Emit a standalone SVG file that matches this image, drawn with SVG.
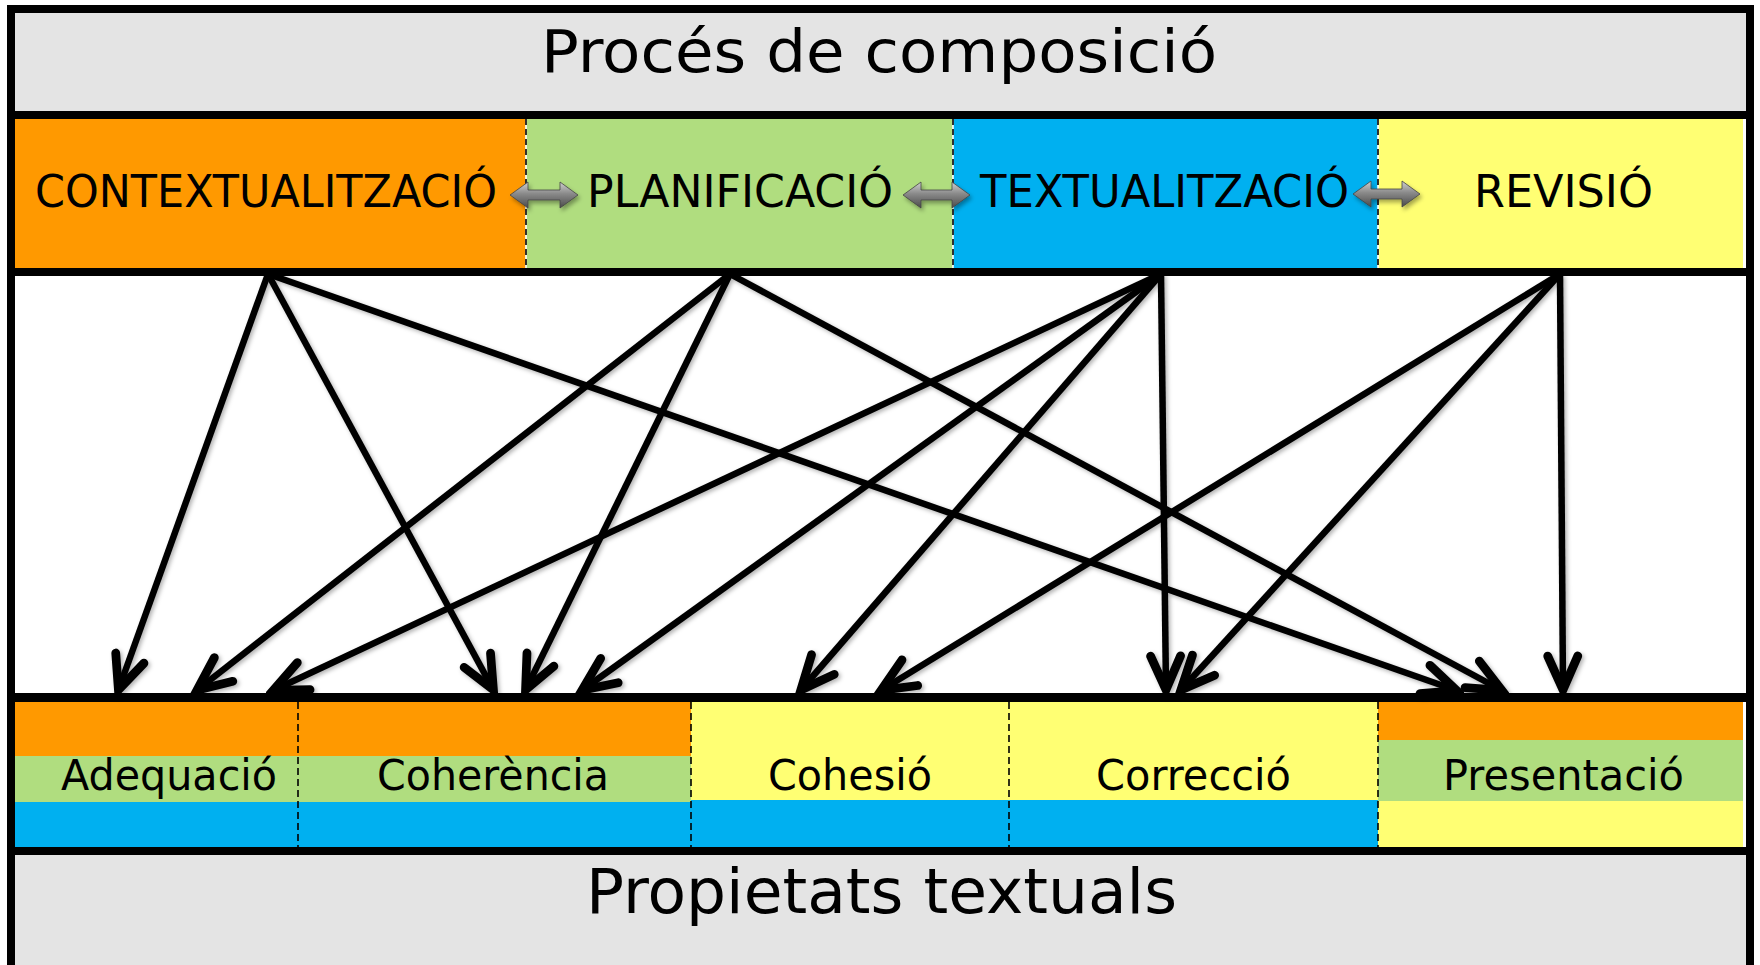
<svg xmlns="http://www.w3.org/2000/svg" width="1760" height="965" viewBox="0 0 1760 965">
<style>
.lbl{font-family:"DejaVu Sans",Verdana,"Liberation Sans",sans-serif;fill:#000;}
.conn{stroke:#000;stroke-width:6.5;fill:none;marker-end:url(#ah);}
.dashT{stroke:#000;stroke-width:1.6;stroke-dasharray:6 4;}
.dashB{stroke:#000;stroke-width:1.6;stroke-dasharray:7 4;}
.dbl{fill:url(#gArrow);stroke:#444;stroke-width:0.8;filter:url(#sh);}
</style>
<defs>
<marker id="ah" markerUnits="userSpaceOnUse" markerWidth="50" markerHeight="50" viewBox="-35 -20 40 40" refX="0" refY="0" orient="auto">
<path d="M -28 -12 L -1 0 L -28 12" fill="none" stroke="#000" stroke-width="7" stroke-linejoin="miter" stroke-linecap="round"/>
</marker>
<linearGradient id="gArrow" x1="0" y1="0" x2="0" y2="1">
<stop offset="0" stop-color="#d0d0d0"/>
<stop offset="0.45" stop-color="#8a8a8a"/>
<stop offset="1" stop-color="#4a4a4a"/>
</linearGradient>
<filter id="sh" x="-20%" y="-40%" width="150%" height="190%">
<feDropShadow dx="2" dy="3" stdDeviation="2" flood-color="#000" flood-opacity="0.35"/>
</filter>
<filter id="lsh" x="-10%" y="-10%" width="120%" height="120%">
<feDropShadow dx="2" dy="2" stdDeviation="2" flood-color="#000" flood-opacity="0.3"/>
</filter>
</defs>
<rect x="0" y="0" width="1760" height="965" fill="#fff"/>

<g id="title-top">
<rect x="15" y="13" width="1731" height="98" fill="#e4e4e4"/>
<text class="lbl" x="541" y="72" font-size="59" textLength="676" lengthAdjust="spacingAndGlyphs">Procés de composició</text>
</g>

<g id="contextualitzacio">
<rect x="15" y="119" width="511" height="149" fill="#ff9900"/>
<text class="lbl" x="35" y="207" font-size="44" textLength="462" lengthAdjust="spacingAndGlyphs">CONTEXTUALITZACIÓ</text>
</g>
<g id="planificacio">
<rect x="526" y="119" width="427" height="149" fill="#b0dd7f"/>
<text class="lbl" x="587" y="207" font-size="44" textLength="306" lengthAdjust="spacingAndGlyphs">PLANIFICACIÓ</text>
</g>
<g id="textualitzacio">
<rect x="953" y="119" width="425" height="149" fill="#00b0f0"/>
<text class="lbl" x="980" y="207" font-size="44" textLength="369" lengthAdjust="spacingAndGlyphs">TEXTUALITZACIÓ</text>
</g>
<g id="revisio">
<rect x="1378" y="119" width="365" height="149" fill="#ffff73"/>
<text class="lbl" x="1474" y="207" font-size="44" textLength="179" lengthAdjust="spacingAndGlyphs">REVISIÓ</text>
</g>
<g id="top-dividers">
<line x1="526" y1="119" x2="526" y2="268" stroke="#fff" stroke-width="1.6"/>
<line x1="953" y1="119" x2="953" y2="268" stroke="#fff" stroke-width="1.6"/>
<line x1="1378" y1="119" x2="1378" y2="268" stroke="#fff" stroke-width="1.6"/>
<line class="dashT" x1="526" y1="119" x2="526" y2="268"/>
<line class="dashT" x1="953" y1="119" x2="953" y2="268"/>
<line class="dashT" x1="1378" y1="119" x2="1378" y2="268"/>
</g>
<g id="double-arrows">
<polygon class="dbl" points="510,195 528,182 528,190 560,190 560,182 578,195 560,208 560,200 528,200 528,208"/>
<polygon class="dbl" points="903,195 921,182 921,190 952,190 952,182 970,195 952,208 952,200 921,200 921,208"/>
<polygon class="dbl" points="1353,194 1371,181 1371,189 1402,189 1402,181 1420,194 1402,207 1402,199 1371,199 1371,207"/>
</g>

<rect x="15" y="276" width="1731" height="417" fill="#fff"/>

<g id="adequacio">
<rect x="15" y="702" width="283" height="54" fill="#ff9900"/>
<rect x="15" y="756" width="283" height="46" fill="#b0dd7f"/>
<rect x="15" y="802" width="283" height="45" fill="#00b0f0"/>
<text class="lbl" x="61" y="790" font-size="42" textLength="216" lengthAdjust="spacingAndGlyphs">Adequació</text>
</g>
<g id="coherencia">
<rect x="298" y="702" width="393" height="54" fill="#ff9900"/>
<rect x="298" y="756" width="393" height="46" fill="#b0dd7f"/>
<rect x="298" y="802" width="393" height="45" fill="#00b0f0"/>
<text class="lbl" x="377" y="790" font-size="42" textLength="232" lengthAdjust="spacingAndGlyphs">Coherència</text>
</g>
<g id="cohesio">
<rect x="691" y="702" width="318" height="98" fill="#ffff73"/>
<rect x="691" y="800" width="318" height="47" fill="#00b0f0"/>
<text class="lbl" x="768" y="790" font-size="42" textLength="164" lengthAdjust="spacingAndGlyphs">Cohesió</text>
</g>
<g id="correccio">
<rect x="1009" y="702" width="369" height="98" fill="#ffff73"/>
<rect x="1009" y="800" width="369" height="47" fill="#00b0f0"/>
<text class="lbl" x="1096" y="790" font-size="42" textLength="195" lengthAdjust="spacingAndGlyphs">Correcció</text>
</g>
<g id="presentacio">
<rect x="1378" y="702" width="365" height="38" fill="#ff9900"/>
<rect x="1378" y="740" width="365" height="61" fill="#b0dd7f"/>
<rect x="1378" y="801" width="365" height="46" fill="#ffff73"/>
<text class="lbl" x="1443" y="790" font-size="42" textLength="241" lengthAdjust="spacingAndGlyphs">Presentació</text>
</g>
<g id="bottom-dividers">
<line class="dashB" x1="298" y1="702" x2="298" y2="847"/>
<line class="dashB" x1="691" y1="702" x2="691" y2="847"/>
<line class="dashB" x1="1009" y1="702" x2="1009" y2="847"/>
<line class="dashB" x1="1378" y1="702" x2="1378" y2="847"/>
</g>

<g id="title-bottom">
<rect x="15" y="855" width="1731" height="110" fill="#e4e4e4"/>
<text class="lbl" x="586" y="913" font-size="63" textLength="591" lengthAdjust="spacingAndGlyphs">Propietats textuals</text>
</g>

<g id="frame" fill="#000">
<rect x="7" y="5" width="1747" height="8"/>
<rect x="7" y="5" width="8" height="960"/>
<rect x="1746" y="5" width="8" height="960"/>
<rect x="7" y="111" width="1747" height="8"/>
<rect x="7" y="268" width="1747" height="8"/>
<rect x="7" y="693" width="1747" height="9"/>
<rect x="7" y="847" width="1747" height="8"/>
</g>

<g id="connectors" filter="url(#lsh)">
<line class="conn" x1="268" y1="274" x2="118" y2="691"/>
<line class="conn" x1="268" y1="274" x2="494" y2="691"/>
<line class="conn" x1="268" y1="274" x2="1458" y2="691"/>
<line class="conn" x1="730" y1="274" x2="196" y2="691"/>
<line class="conn" x1="730" y1="274" x2="525" y2="691"/>
<line class="conn" x1="730" y1="274" x2="1503" y2="691"/>
<line class="conn" x1="1161" y1="274" x2="272" y2="691"/>
<line class="conn" x1="1161" y1="274" x2="581" y2="691"/>
<line class="conn" x1="1161" y1="274" x2="800" y2="691"/>
<line class="conn" x1="1161" y1="274" x2="1166" y2="691"/>
<line class="conn" x1="1560" y1="274" x2="880" y2="691"/>
<line class="conn" x1="1560" y1="274" x2="1180" y2="691"/>
<line class="conn" x1="1560" y1="274" x2="1563" y2="691"/>
</g>
</svg>
